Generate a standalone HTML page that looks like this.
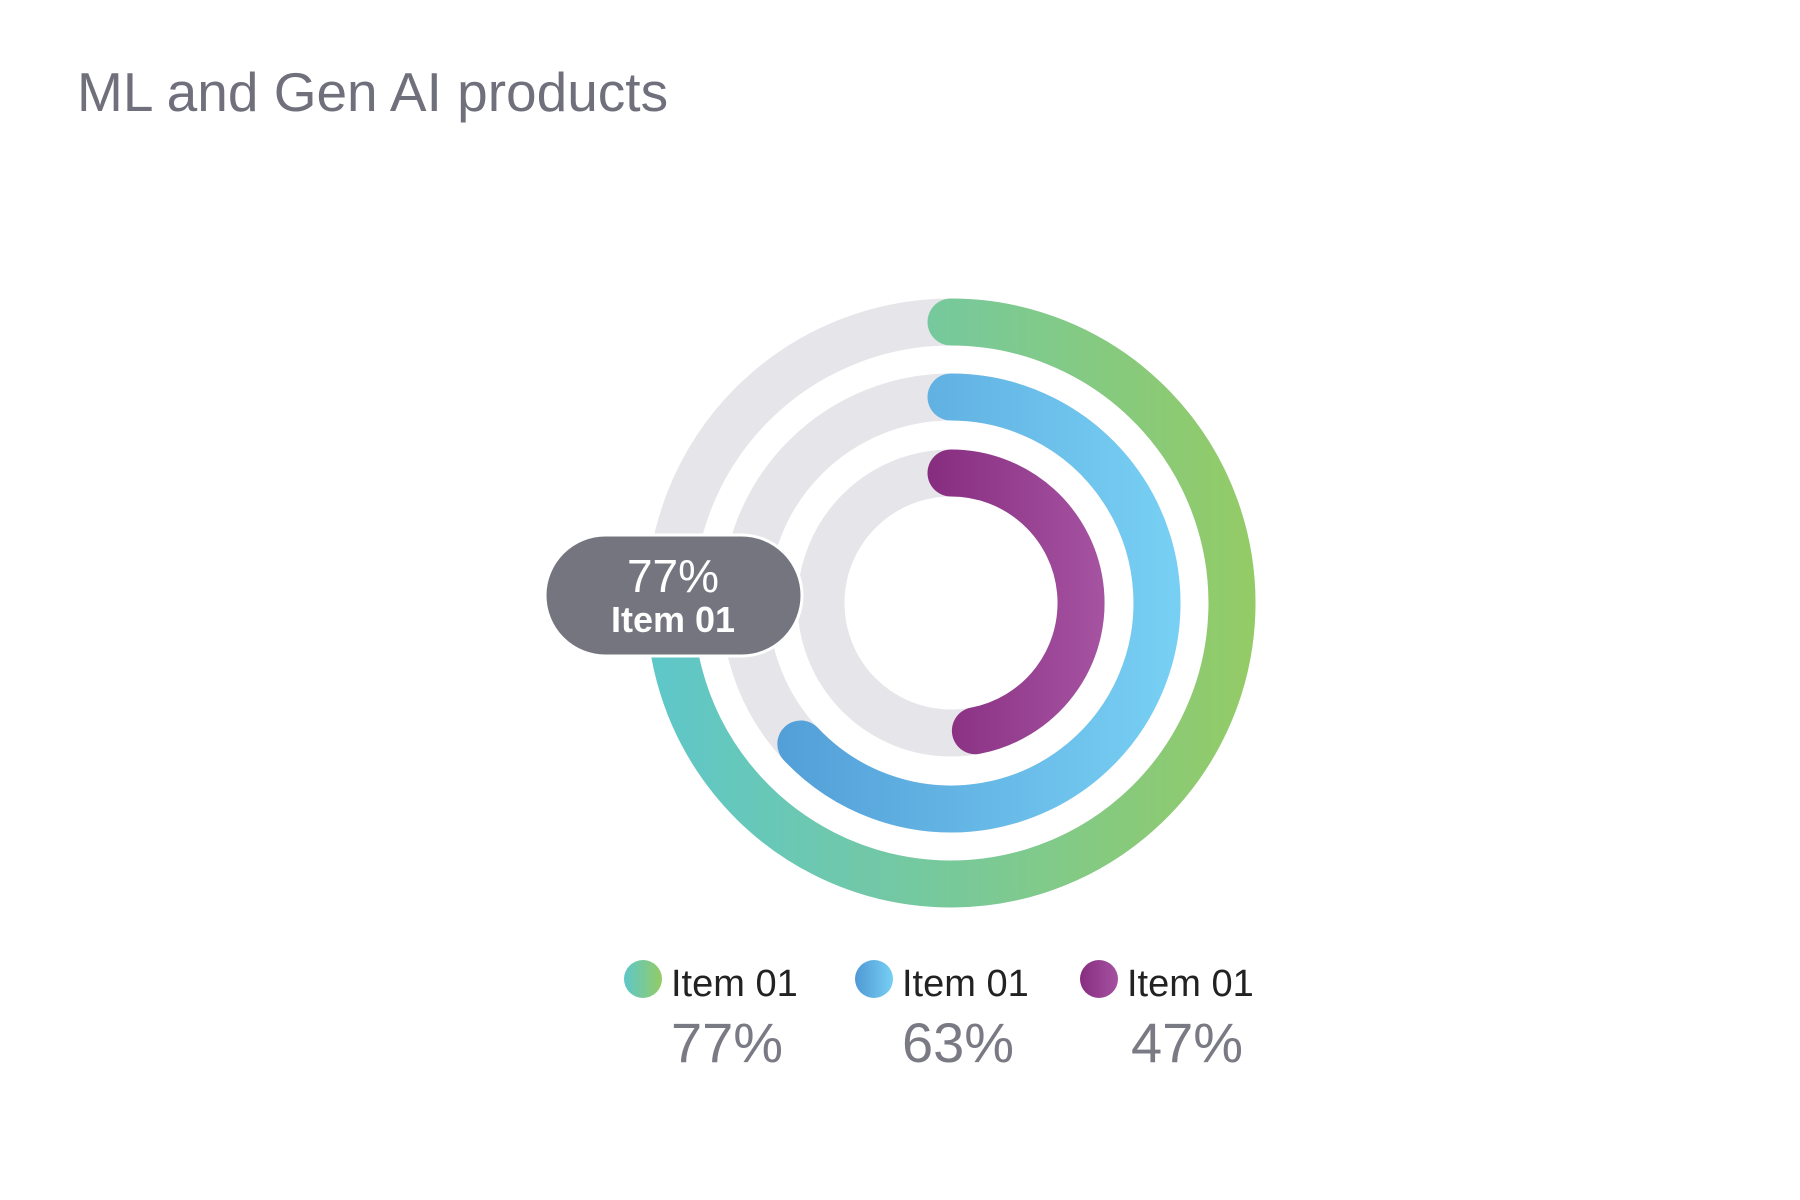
<!DOCTYPE html>
<html><head><meta charset="utf-8"><style>
html,body{margin:0;padding:0;background:#fff;}
svg{display:block;}
</style></head><body>
<svg width="1800" height="1200" viewBox="0 0 1800 1200" xmlns="http://www.w3.org/2000/svg">
<defs>
<linearGradient id="g1" gradientUnits="userSpaceOnUse" x1="655" y1="0" x2="1250" y2="0">
<stop offset="0" stop-color="#5ec7c9"/><stop offset="0.5" stop-color="#78c99a"/><stop offset="1" stop-color="#93cb66"/></linearGradient>
<linearGradient id="g2" gradientUnits="userSpaceOnUse" x1="735" y1="0" x2="1170" y2="0">
<stop offset="0" stop-color="#4f99d5"/><stop offset="1" stop-color="#77cff3"/></linearGradient>
<linearGradient id="g3" gradientUnits="userSpaceOnUse" x1="930" y1="0" x2="1100" y2="0">
<stop offset="0" stop-color="#872d7f"/><stop offset="1" stop-color="#a552a1"/></linearGradient>
<linearGradient id="l1" x1="0" x2="1"><stop offset="0" stop-color="#5ec7c9"/><stop offset="1" stop-color="#93cb66"/></linearGradient>
<linearGradient id="l2" x1="0" x2="1"><stop offset="0" stop-color="#4f99d5"/><stop offset="1" stop-color="#77cff3"/></linearGradient>
<linearGradient id="l3" x1="0" x2="1"><stop offset="0" stop-color="#872d7f"/><stop offset="1" stop-color="#a552a1"/></linearGradient>
</defs>
<text x="77" y="111" font-family="Liberation Sans, sans-serif" font-size="55" fill="#70707c">ML and Gen AI products</text>
<g fill="none" stroke="#e6e6ea" stroke-width="47">
<circle cx="951" cy="603" r="281"/><circle cx="951" cy="603" r="206"/><circle cx="951" cy="603" r="130"/>
</g>
<g fill="none" stroke-width="47" stroke-linecap="round">
<path d="M951 322 A281 281 0 1 1 672.2 567.8" stroke="url(#g1)"/>
<path d="M951 397 A206 206 0 1 1 800.8 744.0" stroke="url(#g2)"/>
<path d="M951 473 A130 130 0 0 1 975.4 730.7" stroke="url(#g3)"/>
</g>
<rect x="545" y="535" width="257" height="121" rx="60.5" fill="#75757f" stroke="#fff" stroke-width="3"/>
<text x="673" y="592" text-anchor="middle" font-family="Liberation Sans, sans-serif" font-size="46" fill="#fff">77%</text>
<text x="673" y="632" text-anchor="middle" font-family="Liberation Sans, sans-serif" font-size="36" font-weight="bold" fill="#fff">Item 01</text>
<g font-family="Liberation Sans, sans-serif">
<circle cx="643" cy="979" r="19" fill="url(#l1)"/>
<text x="671" y="996" font-size="38" fill="#222">Item 01</text>
<text x="671" y="1062" font-size="56" fill="#7a7a84">77%</text>
<circle cx="874" cy="979" r="19" fill="url(#l2)"/>
<text x="902" y="996" font-size="38" fill="#222">Item 01</text>
<text x="902" y="1062" font-size="56" fill="#7a7a84">63%</text>
<circle cx="1099" cy="979" r="19" fill="url(#l3)"/>
<text x="1127" y="996" font-size="38" fill="#222">Item 01</text>
<text x="1131" y="1062" font-size="56" fill="#7a7a84">47%</text>
</g>
</svg>
</body></html>
